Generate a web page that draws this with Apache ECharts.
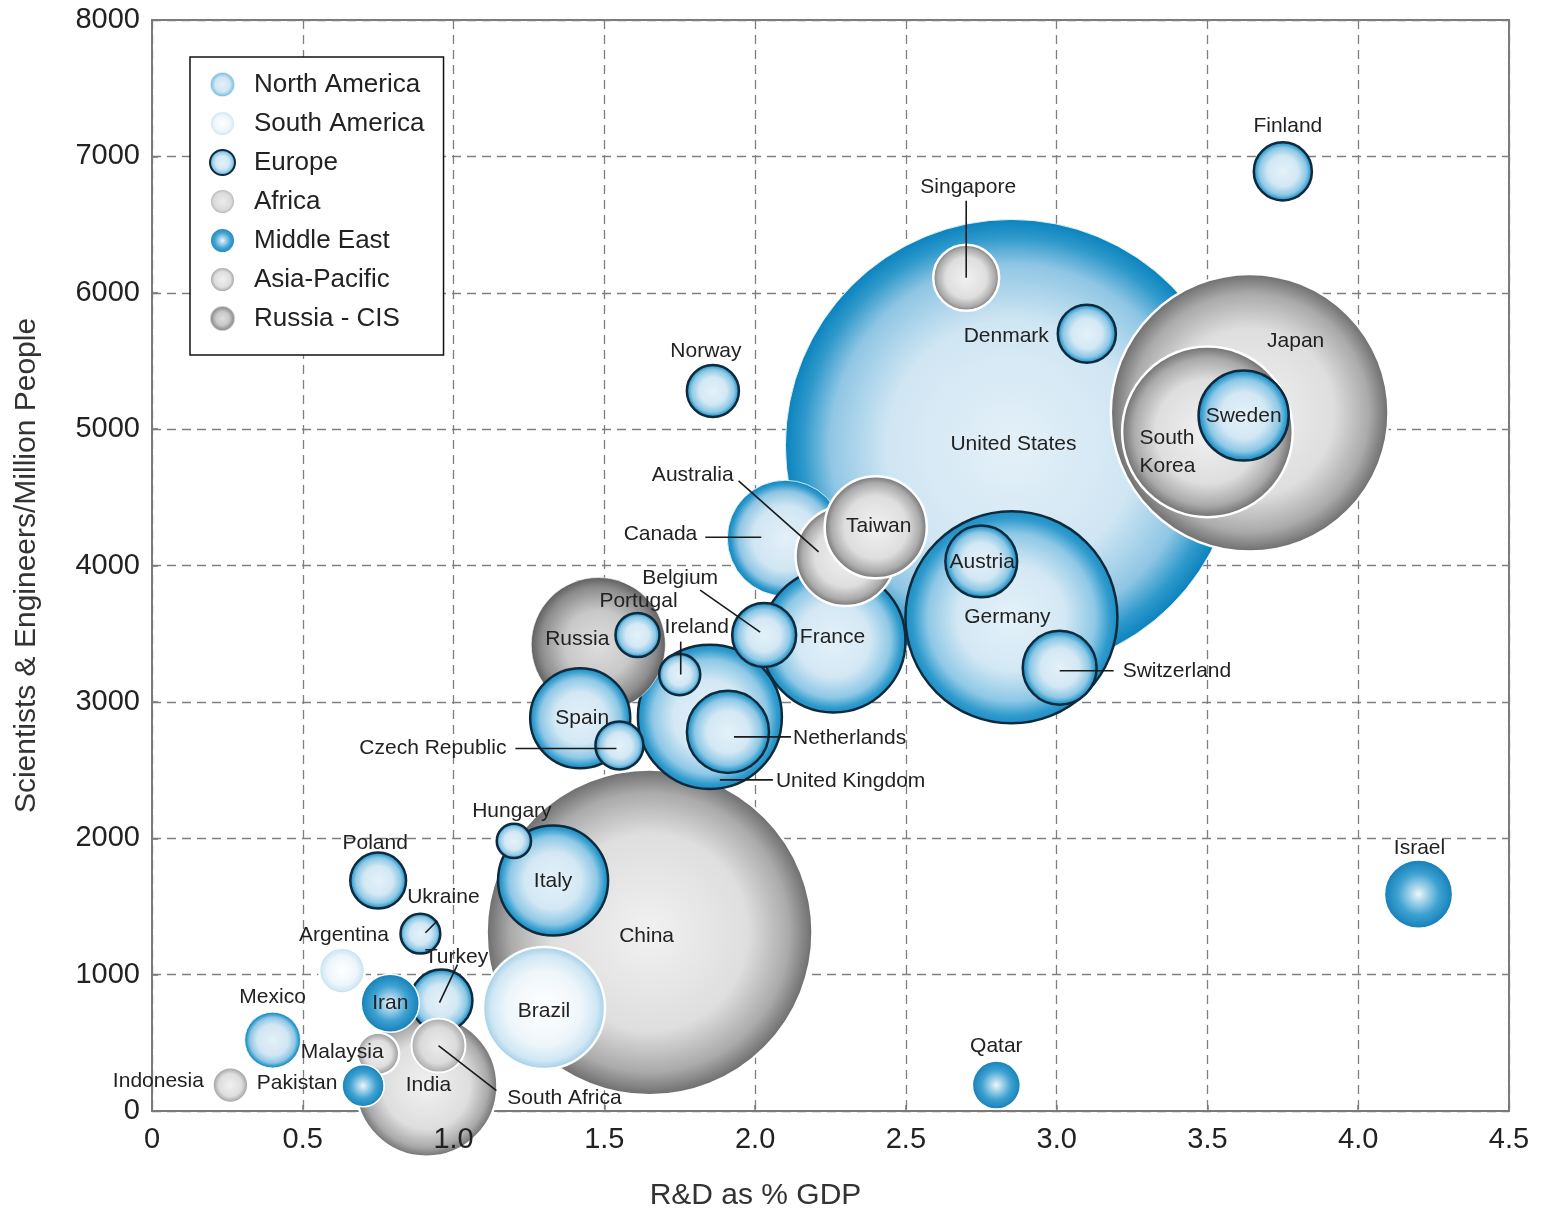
<!DOCTYPE html>
<html>
<head>
<meta charset="utf-8">
<title>R&amp;D intensity vs. researchers per million people</title>
<script src="https://cdn.jsdelivr.net/npm/echarts@6/dist/echarts.min.js"></script>
<style>
  html, body { margin: 0; padding: 0; background: #ffffff; }
  #chart { width: 1543px; height: 1212px; }
</style>
</head>
<body>
<div id="chart"></div>
<script>
// ---- Data (listed in drawing order: larger / background bubbles first) ----
const countries = [
  'United States', 'China', 'Japan', 'Germany', 'South Korea', 'Canada', 'France',
  'United Kingdom', 'India', 'Russia', 'Brazil', 'Italy', 'Australia', 'Taiwan',
  'Spain', 'Sweden', 'Netherlands', 'Switzerland', 'Austria', 'Israel', 'Singapore',
  'Belgium', 'Turkey', 'Iran', 'Finland', 'Denmark', 'Mexico', 'Poland', 'Norway',
  'South Africa', 'Czech Republic', 'Qatar', 'Argentina', 'Portugal', 'Ireland',
  'Ukraine', 'Malaysia', 'Pakistan', 'Indonesia', 'Hungary'
];
const regionOf = [
  'North America', 'Asia-Pacific', 'Asia-Pacific', 'Europe', 'Asia-Pacific', 'North America', 'Europe',
  'Europe', 'Asia-Pacific', 'Russia - CIS', 'South America', 'Europe', 'Asia-Pacific', 'Asia-Pacific',
  'Europe', 'Europe', 'Europe', 'Europe', 'Europe', 'Middle East', 'Asia-Pacific',
  'Europe', 'Europe', 'Middle East', 'Europe', 'Europe', 'North America', 'Europe', 'Europe',
  'Africa', 'Europe', 'Middle East', 'South America', 'Europe', 'Europe',
  'Europe', 'Asia-Pacific', 'Middle East', 'Asia-Pacific', 'Europe'
];
// R&D as % of GDP
const rdPctGDP = [
  2.85, 1.65, 3.64, 2.85, 3.50, 2.10, 2.26,
  1.85, 0.91, 1.48, 1.30, 1.33, 2.30, 2.40,
  1.42, 3.62, 1.91, 3.01, 2.75, 4.20, 2.70,
  2.03, 0.96, 0.79, 3.75, 3.10, 0.40, 0.75, 1.86,
  0.95, 1.55, 2.80, 0.63, 1.61, 1.75,
  0.89, 0.75, 0.70, 0.26, 1.20
];
// Scientists & engineers per million people
const scientistsPerMillion = [
  4880, 1310, 5120, 3620, 4980, 4200, 3450,
  2890, 185, 3420, 755, 1690, 4070, 4280,
  2880, 5100, 2780, 3250, 4030, 1590, 6110,
  3490, 810, 790, 6890, 5700, 520, 1690, 5280,
  480, 2680, 190, 1030, 3490, 3200,
  1300, 420, 185, 190, 1980
];
// Bubble size: R&D spending (US$ billions, PPP)
const rdSpend = [
  400, 208, 151, 88, 57, 26.3, 40.6,
  40.6, 39.5, 35.2, 29.1, 23.7, 19.6, 20.4,
  19.6, 15.9, 13.2, 10.7, 10.1, 9.1, 8.5,
  8.0, 7.5, 6.6, 6.6, 6.6, 6.1, 6.1, 5.3,
  5.7, 4.5, 4.5, 4.1, 3.8, 3.3,
  3.1, 3.45, 3.45, 2.5, 2.3
];
const regions = ['North America', 'South America', 'Europe', 'Africa', 'Middle East', 'Asia-Pacific', 'Russia - CIS'];
const xTickLabels = ['0', '0.5', '1.0', '1.5', '2.0', '2.5', '3.0', '3.5', '4.0', '4.5'];
const yTickLabels = ['0', '1000', '2000', '3000', '4000', '5000', '6000', '7000', '8000'];

// ---- Styling ----
const FONT = '"Liberation Sans", Arial, Helvetica, sans-serif';
const bubbleScale = 22.6; // diameter in px per sqrt(US$ bn)

function radial(stops) {
  return {
    type: 'radial', x: 0.5, y: 0.5, r: 0.5,
    colorStops: stops.map(s => ({ offset: s[0], color: s[1] }))
  };
}
const regionStyle = {
  'North America': { color: radial([[0, '#e4f0f8'], [0.55, '#d0e6f3'], [0.8, '#8fc6e4'], [0.92, '#2e99cb'], [1, '#0a82be']]), borderColor: 'rgba(255,255,255,0.8)', borderWidth: 1 },
  'South America': { color: radial([[0, '#ffffff'], [0.6, '#eef6fb'], [0.85, '#d0e7f4'], [1, '#9dcbe6']]), borderColor: '#ffffff', borderWidth: 2.5 },
  'Europe':        { color: radial([[0, '#e4f1f9'], [0.5, '#d3e8f4'], [0.78, '#8ec8e6'], [0.92, '#2f9bcd'], [1, '#1a8bc2']]), borderColor: '#0e2a3c', borderWidth: 2.5 },
  'Africa':        { color: radial([[0, '#ececec'], [0.65, '#dadada'], [1, '#a4a4a4']]), borderColor: '#ffffff', borderWidth: 2 },
  'Middle East':   { color: radial([[0, '#eef7fc'], [0.25, '#a3d2ea'], [0.6, '#3ea1d1'], [1, '#127fb7']]), borderColor: '#ffffff', borderWidth: 1.5 },
  'Asia-Pacific':  { color: radial([[0, '#f1f1f1'], [0.6, '#dedede'], [0.85, '#aaaaaa'], [1, '#6a6a6a']]), borderColor: '#ffffff', borderWidth: 2.5 },
  'Russia - CIS':  { color: radial([[0, '#dedede'], [0.5, '#c8c8c8'], [0.85, '#8c8c8c'], [1, '#5e5e5e']]), borderColor: 'rgba(255,255,255,0.6)', borderWidth: 1 }
};

// Label placement: offsets (px) from the bubble centre, optional leader line [x1,y1,x2,y2]
const labelPlacement = {
  'United States': { dx: 2, dy: -1 },
  'China': { dx: -3, dy: 4 },
  'Japan': { dx: 46, dy: -72 },
  'Germany': { dx: -4, dy: 0 },
  'South Korea': { dx: -68, dy: 20, align: 'left', text: 'South\nKorea' },
  'Canada': { dx: -88, dy: -4, align: 'right', line: [-80, -1, -24, -1] },
  'France': { dx: -1, dy: -3 },
  'United Kingdom': { dx: 66, dy: 64, align: 'left', line: [10, 63, 63, 63] },
  'India': { dx: 2, dy: -1 },
  'Russia': { dx: -21, dy: -5 },
  'Brazil': { dx: 0, dy: 3 },
  'Italy': { dx: 0, dy: 1 },
  'Australia': { dx: -112, dy: -81, align: 'right', line: [-107, -75, -27, -4] },
  'Taiwan': { dx: 3, dy: -1 },
  'Spain': { dx: 2, dy: 0 },
  'Sweden': { dx: 0, dy: 1 },
  'Netherlands': { dx: 65, dy: 6, align: 'left', line: [6, 5, 63, 5] },
  'Switzerland': { dx: 63, dy: 3, align: 'left', line: [0, 3, 54, 3] },
  'Austria': { dx: 1, dy: 1 },
  'Israel': { dx: 1, dy: -46 },
  'Singapore': { dx: 2, dy: -91, line: [0, -77, 0, 0] },
  'Belgium': { dx: -84, dy: -57, line: [-64, -45, -4, -3] },
  'Turkey': { dx: 15, dy: -43, line: [16, -36, -2, 2] },
  'Iran': { dx: 0, dy: 0 },
  'Finland': { dx: 5, dy: -45 },
  'Denmark': { dx: -38, dy: 3, align: 'right' },
  'Mexico': { dx: 0, dy: -43 },
  'Poland': { dx: -3, dy: -37 },
  'Norway': { dx: -7, dy: -40 },
  'South Africa': { dx: 126, dy: 53, line: [0, 0, 58, 45] },
  'Czech Republic': { dx: -113, dy: 3, align: 'right', line: [-104, 3, -3, 3] },
  'Qatar': { dx: 0, dy: -39 },
  'Argentina': { dx: 2, dy: -35 },
  'Portugal': { dx: 1, dy: -34 },
  'Ireland': { dx: 17, dy: -47, line: [1, -33, 1, 0] },
  'Ukraine': { dx: 23, dy: -37, line: [17, -13, 5, -1] },
  'Malaysia': { dx: -36, dy: -2 },
  'Pakistan': { dx: -66, dy: -3 },
  'Indonesia': { dx: -72, dy: -4 },
  'Hungary': { dx: -2, dy: -30 }
};

// One scatter series per country (sharing its region's name) keeps the overlap order
const bubbleSeries = countries.map((name, i) => ({
  type: 'scatter',
  name: regionOf[i],
  clip: false,
  silent: true,
  symbol: 'circle',
  symbolSize: bubbleScale * Math.sqrt(rdSpend[i]),
  itemStyle: Object.assign({ opacity: 1 }, regionStyle[regionOf[i]]),
  emphasis: { disabled: true },
  data: [[rdPctGDP[i], scientistsPerMillion[i]]],
  z: 2
}));

const labelSeries = {
  type: 'custom',
  name: 'labels',
  clip: false,
  silent: true,
  z: 10,
  data: countries.map((c, i) => [rdPctGDP[i], scientistsPerMillion[i], i]),
  renderItem: function (params, api) {
    const i = api.value(2);
    const p = api.coord([api.value(0), api.value(1)]);
    const L = labelPlacement[countries[i]];
    const children = [];
    if (L.line) {
      children.push({
        type: 'line',
        shape: { x1: p[0] + L.line[0], y1: p[1] + L.line[1], x2: p[0] + L.line[2], y2: p[1] + L.line[3] },
        style: { stroke: '#1a1a1a', lineWidth: 1.6 }
      });
    }
    children.push({
      type: 'text',
      x: p[0] + L.dx,
      y: p[1] + L.dy,
      style: {
        text: L.text || countries[i],
        align: L.align || 'center',
        verticalAlign: 'middle',
        fontSize: 21,
        fontFamily: FONT,
        lineHeight: 28,
        fill: '#222222'
      }
    });
    return { type: 'group', children: children };
  }
};

const axisLineStyle = { color: '#7a7a7a', width: 2 };
const gridLineStyle = { type: [9, 6], color: '#7f7f7f', width: 1.3 };

const chart = echarts.init(document.getElementById('chart'), null, { renderer: 'canvas' });
chart.setOption({
  animation: false,
  backgroundColor: '#ffffff',
  textStyle: { fontFamily: FONT },
  grid: {
    left: 152, right: 34, top: 20, bottom: 101,
    containLabel: false,
    outerBoundsMode: 'none',
    show: true, borderColor: '#7a7a7a', borderWidth: 2, backgroundColor: 'transparent'
  },
  legend: {
    data: regions,
    orient: 'vertical',
    left: 190, top: 57,
    backgroundColor: '#ffffff',
    borderColor: '#111111',
    borderWidth: 1.5,
    borderRadius: 0,
    padding: [14, 19, 23, 19],
    itemGap: 12,
    itemWidth: 25,
    itemHeight: 25,
    icon: 'circle',
    textStyle: { fontSize: 26, lineHeight: 26, color: '#222222', fontFamily: FONT, padding: [0, 0, 0, 14] }
  },
  xAxis: [
    {
      // gridlines, ticks and title, beneath the bubbles
      type: 'value',
      position: 'bottom',
      min: 0, max: 4.5, interval: 0.5,
      name: 'R&D as % GDP',
      nameLocation: 'middle',
      nameGap: 70,
      nameTextStyle: { fontSize: 30, color: '#333333', fontFamily: FONT, padding: [0, 150, 0, 0] },
      axisLine: { show: true, onZero: false, lineStyle: axisLineStyle },
      axisTick: { show: true, inside: true, length: 6, lineStyle: { color: '#7a7a7a', width: 1.5 } },
      axisLabel: { show: false },
      splitLine: { show: true, lineStyle: gridLineStyle },
      z: 0
    },
    {
      // tick labels, drawn above the bubbles
      type: 'value',
      position: 'bottom',
      min: 0, max: 4.5, interval: 0.5,
      axisLine: { show: false },
      axisTick: { show: false },
      splitLine: { show: false },
      axisLabel: {
        fontSize: 29, color: '#222222', margin: 14, fontFamily: FONT,
        formatter: v => xTickLabels[Math.round(v / 0.5)]
      },
      z: 20
    }
  ],
  yAxis: {
    type: 'value',
    min: 0, max: 8000, interval: 1000,
    name: 'Scientists & Engineers/Million People',
    nameLocation: 'middle',
    nameGap: 110,
    nameTextStyle: { fontSize: 30, color: '#333333', fontFamily: FONT },
    axisLine: { show: true, onZero: false, lineStyle: axisLineStyle },
    axisTick: { show: true, inside: true, length: 6, lineStyle: { color: '#7a7a7a', width: 1.5 } },
    axisLabel: {
      fontSize: 29, color: '#222222', margin: 12, fontFamily: FONT,
      formatter: v => yTickLabels[Math.round(v / 1000)]
    },
    splitLine: { show: true, lineStyle: gridLineStyle }
  },
  series: bubbleSeries.concat([labelSeries])
});
</script>
</body>
</html>
